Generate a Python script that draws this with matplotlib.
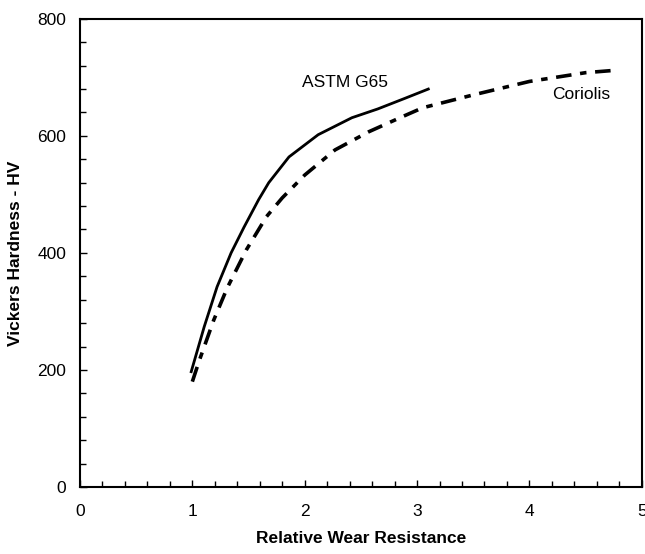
import matplotlib.pyplot as plt
from matplotlib.ticker import MultipleLocator

plt.rcParams['font.family'] = ['Liberation Sans', 'DejaVu Sans']

# values
astm_x = [0.99, 1.106, 1.22, 1.345, 1.46, 1.59, 1.68, 1.86, 2.12, 2.42, 2.65, 2.89, 3.1]
astm_hv = [197, 274, 342, 400, 444, 491, 520, 564, 602, 631, 646, 664, 680]

cor_x = [1.0, 1.06, 1.19, 1.31, 1.48, 1.66, 1.8, 2.0, 2.27, 2.57, 2.86, 3.05, 3.5, 4.0, 4.5, 4.76]
cor_hv = [180, 215, 285, 340, 405, 462, 494, 533, 576, 607, 632, 648, 670, 693, 708, 712]

fig = plt.figure(figsize=(6.45, 5.54), dpi=100)
ax = fig.add_axes([0.124, 0.121, 0.871, 0.845])

ax.plot(astm_x, astm_hv, color='black', lw=2)
ax.plot(cor_x, cor_hv, color='black', lw=2.6, dashes=(4.3, 2.4, 1.8, 2.4))

ax.text(2.36, 692, 'ASTM G65', fontsize=12.5, ha='center', va='center')
ax.text(4.46, 670, 'Coriolis', fontsize=12.5, ha='center', va='center')

ax.set_xlim(0, 5)
ax.set_ylim(0, 800)
ax.xaxis.set_major_locator(MultipleLocator(1))
ax.xaxis.set_minor_locator(MultipleLocator(0.2))
ax.yaxis.set_major_locator(MultipleLocator(200))
ax.yaxis.set_minor_locator(MultipleLocator(40))
ax.tick_params(which='both', direction='in', top=False, right=False, labelsize=12.5)
ax.tick_params(axis='x', pad=12)
ax.tick_params(axis='y', pad=10)
ax.tick_params(which='major', length=5, width=1)
ax.tick_params(which='minor', length=4, width=1)
for s in ax.spines.values():
    s.set_linewidth(1.5)

ax.set_xlabel('Relative Wear Resistance', fontsize=12.5, fontweight='bold', labelpad=9)
ax.set_ylabel('Vickers Hardness - HV', fontsize=12.5, fontweight='bold', labelpad=10)

fig.savefig('out.png', dpi=100)
